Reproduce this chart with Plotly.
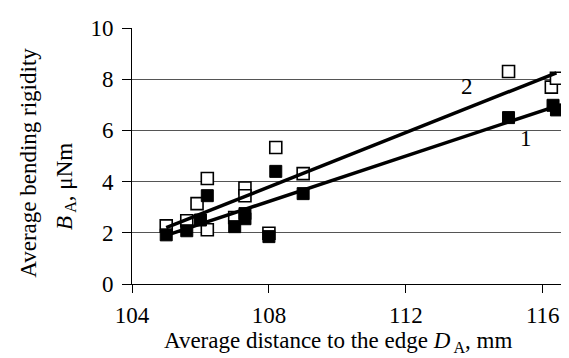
import plotly.graph_objects as go

# Series 1 (filled squares)
x1 = [105.0, 105.6, 106.0, 106.2, 107.0, 107.3, 107.3, 108.0, 108.2, 109.0, 115.0, 116.3, 116.4]
y1 = [1.92, 2.08, 2.5, 3.45, 2.24, 2.75, 2.55, 1.85, 4.4, 3.53, 6.5, 6.98, 6.8]
# Series 2 (open squares)
x2 = [105.0, 105.6, 105.9, 106.2, 106.2, 107.0, 107.3, 107.3, 108.0, 108.2, 109.0, 115.0, 116.25, 116.4]
y2 = [2.27, 2.47, 3.14, 4.12, 2.12, 2.6, 3.75, 3.45, 1.98, 5.33, 4.31, 8.3, 7.69, 8.04]
# Trend lines (endpoints)
fit1_x = [105.0, 116.4]
fit1_y = [1.9, 6.95]
fit2_x = [105.0, 116.4]
fit2_y = [2.2, 8.25]

x_ticks = [104, 108, 112, 116]
y_ticks = [0, 2, 4, 6, 8, 10]

FONT = "Liberation Serif, Times New Roman, serif"
FS = 23

fig = go.Figure()
fig.add_trace(go.Scatter(x=x2, y=y2, mode="markers",
                         marker=dict(symbol="square", size=12, color="white",
                                     line=dict(color="black", width=1.6)),
                         showlegend=False))
fig.add_trace(go.Scatter(x=x1, y=y1, mode="markers",
                         marker=dict(symbol="square", size=12, color="black",
                                     line=dict(color="black", width=1)),
                         showlegend=False))
fig.add_trace(go.Scatter(x=fit1_x, y=fit1_y, mode="lines",
                         line=dict(color="black", width=3.5), showlegend=False))
fig.add_trace(go.Scatter(x=fit2_x, y=fit2_y, mode="lines",
                         line=dict(color="black", width=3.5), showlegend=False))

fig.add_annotation(x=113.8, y=7.7, text="2", showarrow=False,
                   font=dict(family=FONT, size=FS, color="black"))
fig.add_annotation(x=115.5, y=5.7, text="1", showarrow=False,
                   font=dict(family=FONT, size=FS, color="black"))

fig.add_annotation(xref="paper", yref="paper", x=-0.233, y=0.475,
                   xanchor="center", yanchor="middle", textangle=-90,
                   text="Average bending rigidity", showarrow=False,
                   font=dict(family=FONT, size=FS, color="black"))
fig.add_annotation(xref="paper", yref="paper", x=-0.15, y=0.38,
                   xanchor="center", yanchor="middle", textangle=-90,
                   text="<i>B</i><sub> A</sub>, μNm", showarrow=False,
                   font=dict(family=FONT, size=FS, color="black"))
fig.add_annotation(xref="paper", yref="paper", x=0.462, y=-0.225,
                   xanchor="center", yanchor="middle",
                   text="Average distance to the edge <i>D</i><sub> A</sub>, mm", showarrow=False,
                   font=dict(family=FONT, size=FS, color="black"))

fig.update_layout(
    width=569, height=358,
    margin=dict(l=124, r=0, t=20, b=82),
    paper_bgcolor="white", plot_bgcolor="white",
    font=dict(family=FONT, size=FS, color="black"),
    xaxis=dict(range=[104, 117], tickvals=x_ticks, ticks="outside", ticklen=8,
               tickcolor="black", showgrid=False, showline=True, linecolor="black",
               linewidth=1, zeroline=False, tickfont=dict(family=FONT, size=FS),
               ticklabelstandoff=2),
    yaxis=dict(range=[0, 10], tickvals=y_ticks, ticks="outside", ticklen=9,
               tickcolor="black", showgrid=True, gridcolor="#555555", gridwidth=1,
               showline=True, linecolor="black", linewidth=1, zeroline=False,
               tickfont=dict(family=FONT, size=FS), ticklabelstandoff=4),
)

fig.write_html("out.html")
